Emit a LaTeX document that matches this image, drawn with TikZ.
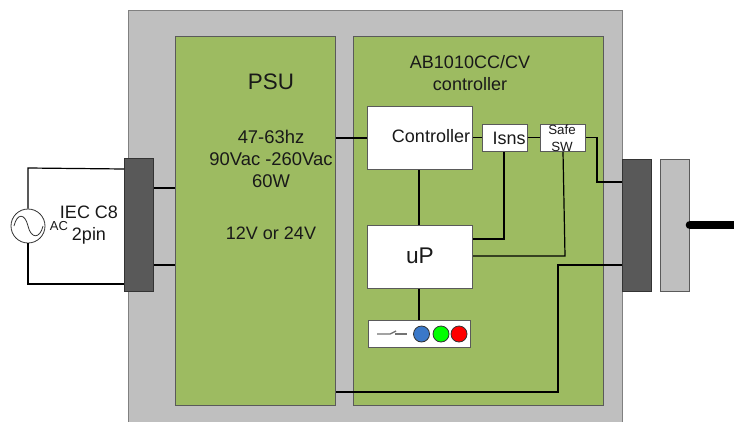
\documentclass[tikz,border=0pt]{standalone}
\usepackage{fontspec}
\setmainfont{Liberation Sans}
\usepackage{tikz}
\usetikzlibrary{positioning,calc}
\definecolor{casegray}{HTML}{BFBFBF}
\definecolor{boardgreen}{HTML}{9DBB61}
\definecolor{plugdark}{HTML}{595959}
\definecolor{edgegray}{HTML}{5A5A5A}
\definecolor{ledblue}{HTML}{3A78C9}
\tikzset{
	pane/.style 2 args={minimum width=#1*0.75pt,minimum height=#2*0.75pt,inner sep=0pt,anchor=north west,draw=edgegray,line width=0.75pt},
	wire/.style={draw=black,line width=0.9pt},
	lbl/.style={inner sep=0pt,align=center,text=black!90,font=\fontsize{13.5}{16.5}\selectfont},
	led/.style={circle,minimum size=12pt,inner sep=0pt,draw=black!80,line width=0.6pt},
}
\begin{document}
\begin{tikzpicture}[x=0.75pt,y=-0.75pt]
	\useasboundingbox (0,0) rectangle (734,421);
	
	\node[pane={494}{425},fill=casegray,draw=black!50] (case) at (128,10) {};
	\node[pane={160}{369},fill=boardgreen] (psu) at (175,36) {};
	\node[pane={250}{369},fill=boardgreen] (board) at (353,36) {};
	
	\node[pane={105}{63},fill=white] (ctrl) at (367,106) {};
	\node[pane={45}{27},fill=white] (isns) at (482,124) {};
	\node[pane={45}{27},fill=white] (safe) at (540,124) {};
	\node[pane={105}{63},fill=white] (up) at (367,225) {};
	\node[pane={102}{27},fill=white] (panel) at (368,320) {};
	
	\node[pane={29}{133},fill=plugdark,draw=black!80] (inlet) at (124,158) {};
	\node[pane={29}{132},fill=plugdark,draw=black!80] (outlet) at (622,159) {};
	\node[pane={29}{132},fill=casegray] (plug) at (660,159) {};
	
	\node[circle,minimum size=25.5pt,inner sep=0pt,draw=black!80,line width=0.6pt,fill=white] (ac) at (28,226) {};
	\draw[line width=0.6pt,black!80] (14,226) .. controls (17,213) and (25,213) .. (28,226) .. controls (31,239) and (40,239) .. (43,226);
	
	\node[led,fill=ledblue] (ledb) at (421.5,334) {};
	\node[led,fill=green] (ledg) at (441,334) {};
	\node[led,fill=red] (ledr) at (459,334) {};
	
	\coordinate (swa) at (377,334);
	\coordinate (swb) at (390,334);
	\coordinate (swc) at (395,334);
	\coordinate (swd) at (407,334);
	\coordinate (swe) at (396,331);
	\draw[draw=black!55,line width=1pt] (swa)--(swb)--(swe);
	\draw[draw=black!55,line width=1pt] (swc)--(swd);
	
	% mains side
	\draw[wire] (ac.north)--(28,168)--(inlet.west |- 0,169);
	\draw[wire] (ac.south)--(28,284)--(inlet.west |- 0,284);
	\draw[wire] (inlet.east |- 0,188)--(psu.west |- 0,188);
	\draw[wire] (inlet.east |- 0,265)--(psu.west |- 0,265);
	
	% board
	\draw[wire] (psu.east |- 0,138)--(ctrl.west |- 0,138);
	\draw[wire] (ctrl.east |- 0,137.5)--(isns.west |- 0,137.5);
	\draw[wire] (isns.east |- 0,137.5)--(safe.west |- 0,137.5);
	\draw[wire] (safe.east |- 0,137.5)--(597,137.5)--(597,182)--(outlet.west |- 0,182);
	\draw[wire] (ctrl.south -| 419,0)--(up.north -| 419,0);
	\draw[wire] (isns.south -| 504,0)--(504,239)--(up.east |- 0,239);
	\draw[wire] (safe.south -| 563,0)--(565,256)--(up.east |- 0,256);
	\draw[wire] (up.south -| 419,0)--(panel.north -| 419,0);
	\draw[wire] (psu.east |- 0,392)--(558,392)--(558,265)--(outlet.west |- 0,265);
	
	\coordinate (cable) at (734,225);
	\draw[line width=6.5pt,line cap=round] (cable -| plug.east) --++(10,0);
	\draw[line width=6.5pt] (cable -| plug.east) -- (cable);
	
	\node[lbl,font=\fontsize{16.8}{20}\selectfont] (psutxt) at (271,82) {PSU};
	\node[lbl,font=\fontsize{13.8}{16.5}\selectfont] (psuspec) at (271,159) {47-63hz\\90Vac -260Vac\\60W};
	\node[lbl] (psuout) at (271,233) {12V or 24V};
	\node[lbl] (boardtxt) at (470,73) {AB1010CC/CV\\controller};
	\node[lbl] (ctrltxt) at (431,136) {Controller};
	\node[lbl] (isnstxt) at (509,138) {Isns};
	\node[lbl,font=\fontsize{10}{12.5}\selectfont] (safetxt) at (562,138) {Safe\\SW};
	\node[lbl,font=\fontsize{17}{20}\selectfont] (uptxt) at (420,256) {uP};
	\node[lbl] (iectxt) at (89,225) {IEC C8\\2pin};
	\node[lbl,font=\fontsize{9.75}{12}\selectfont] (actxt) at (59,226) {AC};
\end{tikzpicture}
\end{document}
